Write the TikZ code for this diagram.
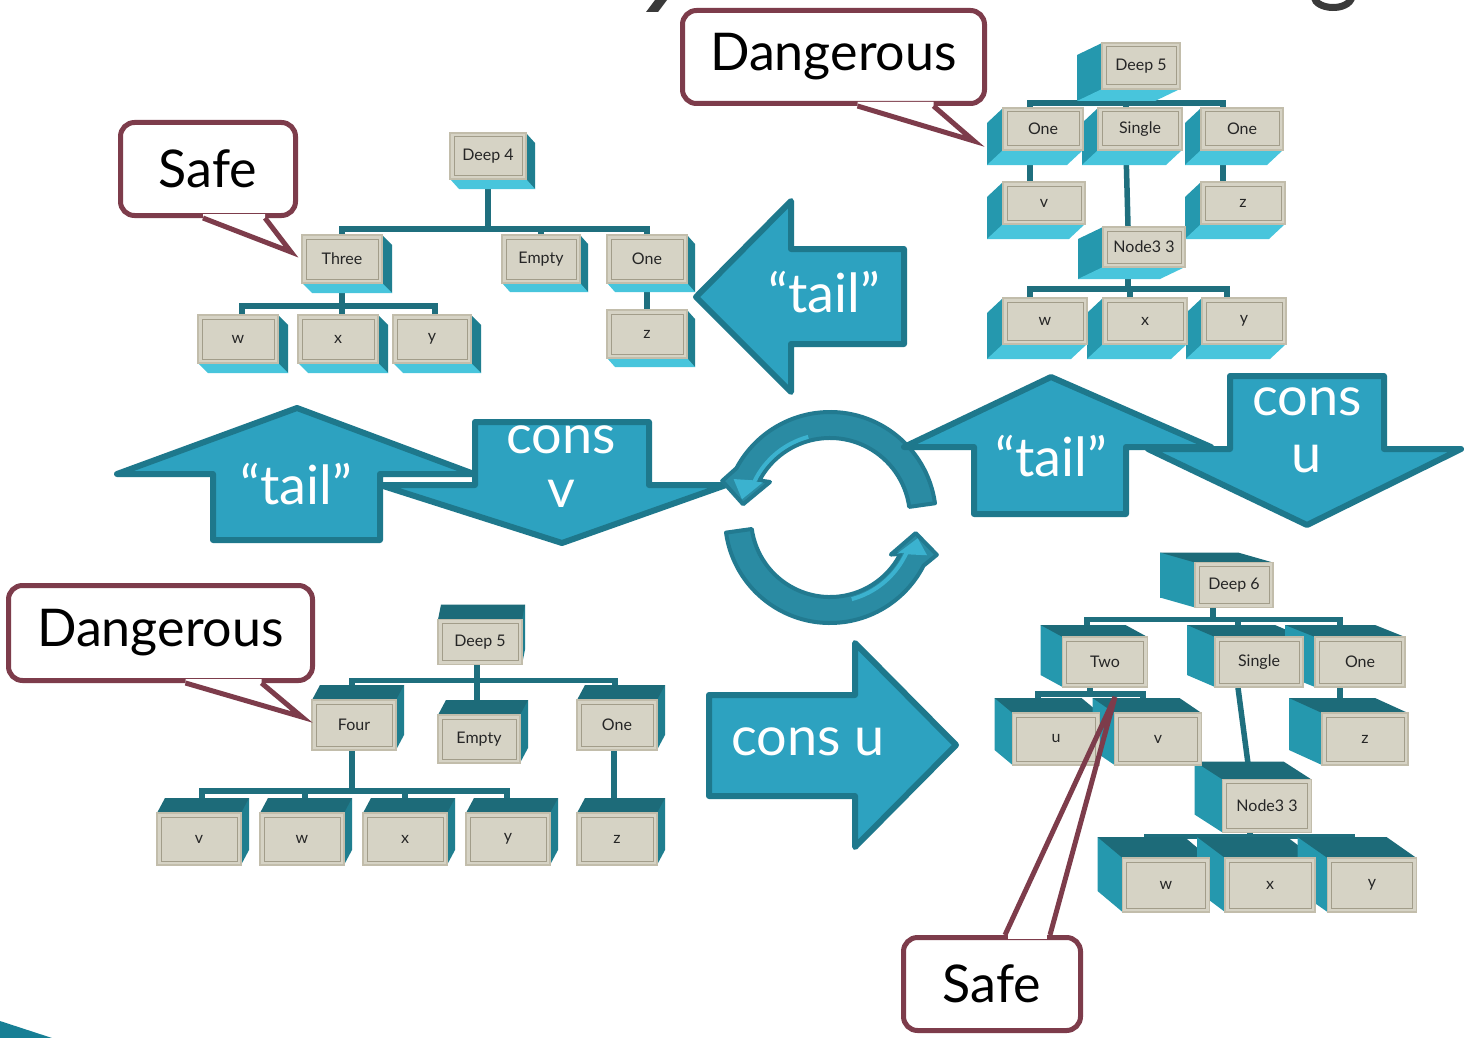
\documentclass[tikz,border=0pt]{standalone}
\usepackage{fontspec}
\setmainfont{Lato}
\usetikzlibrary{calc}
\pgfdeclarelayer{bglayer}
\pgfdeclarelayer{connlayer}
\pgfdeclarelayer{extlayer}
\pgfsetlayers{bglayer,connlayer,extlayer,main}
\definecolor{arrowfill}{HTML}{2DA2C0}
\definecolor{arrowline}{HTML}{1E788C}
\definecolor{callcol}{HTML}{7D3C4B}
\definecolor{conncol}{HTML}{1F6F7E}
\definecolor{facecol}{HTML}{D6D3C5}
\definecolor{rimcol}{HTML}{C2BDAB}
\definecolor{facedark}{HTML}{A29D8A}
\definecolor{circfill}{HTML}{2A8BA3}
\definecolor{circline}{HTML}{227A90}
\definecolor{circlight}{HTML}{3BB2CF}
\definecolor{titlecol}{HTML}{3A3A3A}
\definecolor{cornercol}{HTML}{177F95}
\definecolor{tealdark}{HTML}{1D6B79}
\definecolor{tealmid}{HTML}{2598AE}
\definecolor{tealside}{HTML}{1F7E8F}
\definecolor{cyanlight}{HTML}{48C5DC}

\newcommand{\btn}[8]{%
  \begin{pgfonlayer}{extlayer}
    \fill[extH] ({#2-#4/2+(#6)},{#3-#5/2+(#7)}) rectangle ++(#4,#5);
    \fill[extH] ({#2+sign(#6)*#4/2},{#3-#5/2}) -- ++(0,#5) -- ++(#6,#7) -- ++(0,-#5) -- cycle;
    \fill[extV] ({#2-#4/2},{#3+sign(#7)*#5/2}) -- ++(#4,0) -- ++(#6,#7) -- ++(-#4,0) -- cycle;
  \end{pgfonlayer}
  \node[btnface, minimum width=#4pt, minimum height=#5pt] (#1) at (#2,#3) {#8};
}
\newcommand{\calltail}[4]{%
  \fill[white] ([yshift=#4]#1) -- (#1) -- (#2) -- (#3) -- ([yshift=#4]#3) -- cycle;
  \draw[callcol, line width=5pt, line join=miter] (#1) -- (#2) -- (#3);
}

\begin{document}
\begin{tikzpicture}[x=1pt,y=-1pt,
  btnface/.style={fill=facecol, draw=rimcol, line width=1.6pt, inner sep=0pt,
    font=\fontsize{16}{18}\selectfont, text=black!85,
    path picture={\draw[line width=1pt, draw=facedark]
      ([shift={(4pt,4pt)}]path picture bounding box.south west) rectangle
      ([shift={(-4pt,-4pt)}]path picture bounding box.north east);}},
  conn/.style={draw=conncol, line width=5.5pt},
  callout/.style={draw=callcol, line width=5pt, fill=white, rounded corners=14pt,
    inner sep=0pt, font=\fontsize{52}{60}\selectfont},
  blockarrow/.style={fill=arrowfill, draw=arrowline, line width=6pt, line join=round},
  arrowtext/.style={text=white, font=\fontsize{54}{58}\selectfont, inner sep=0pt},
  circarrow/.style={fill=circfill, draw=circline, line width=4pt, line join=round},
  extH/.style={fill=tealside}, extV/.style={fill=cyanlight}]
\useasboundingbox (0,0) rectangle (1464,1038);
\begin{pgfonlayer}{bglayer}
  \fill[white] (0,0) rectangle (1464,1038);
\end{pgfonlayer}

% title fragments and corner
\fill[titlecol] (655,0) -- (667,0) -- (658,12) -- (646,12) -- cycle;
\draw[titlecol, line width=7pt] (1314,-3) .. controls (1316,10) and (1348,12) .. (1352,-3);
\fill[cornercol] (0,1021) -- (52,1038) -- (0,1038) -- cycle;

% ---------- top-left tree ----------
\tikzset{extH/.style={fill=tealside}, extV/.style={fill=cyanlight}}
\btn{tlD}{488}{156}{76}{46}{9}{10}{Deep 4}
\btn{tlT}{342}{259}{80}{48}{10}{10}{Three}
\btn{tlE}{541}{259}{78}{48}{8}{9}{Empty}
\btn{tlO}{647}{259}{80}{48}{8}{9}{One}
\btn{tlw}{238}{339}{80}{48}{10}{10}{w}
\btn{tlx}{338}{339}{80}{48}{10}{10}{x}
\btn{tly}{432}{339}{78}{48}{10}{10}{y}
\btn{tlz}{647}{334}{80}{48}{8}{9}{z}

% ---------- top-right tree ----------
\tikzset{extH/.style={fill=tealmid}, extV/.style={fill=cyanlight}}
\btn{trD}{1141}{66}{78}{46}{-25}{12}{Deep 5}
\btn{trOa}{1043}{129}{80}{42}{-16}{15}{One}
\btn{trS}{1140}{129}{84}{42}{-16}{15}{Single}
\btn{trOb}{1242}{129}{82}{42}{-16}{15}{One}
\btn{trv}{1044}{203}{82}{42}{-16}{15}{v}
\btn{trz}{1243}{203}{84}{42}{-16}{15}{z}
\btn{trN}{1144}{247}{82}{40}{-25}{12}{Node3 3}
\btn{trw}{1045}{321}{84}{46}{-16}{15}{w}
\btn{trx}{1145}{321}{84}{46}{-16}{15}{x}
\btn{try}{1244}{321}{84}{46}{-16}{15}{y}

% ---------- bottom-left tree ----------
\tikzset{extH/.style={fill=tealside}, extV/.style={fill=tealdark}}
\btn{blD}{480}{642}{84}{45}{3}{-15}{Deep 5}
\btn{blF}{354}{725}{84}{50}{8}{-15}{Four}
\btn{blE}{479}{739}{82}{48}{8}{-15}{Empty}
\btn{blO}{617}{725}{80}{50}{8}{-15}{One}
\btn{blv}{199}{839}{84}{52}{8}{-15}{v}
\btn{blw}{302}{839}{84}{52}{8}{-15}{w}
\btn{blx}{405}{839}{84}{52}{8}{-15}{x}
\btn{bly}{508}{839}{84}{52}{8}{-15}{y}
\btn{blz}{617}{839}{80}{52}{8}{-15}{z}

% ---------- bottom-right tree ----------
\tikzset{extH/.style={fill=tealmid}, extV/.style={fill=tealdark}}
\btn{brD}{1234}{585}{78}{45}{-35}{-10}{Deep 6}
\btn{brT}{1105}{662}{85}{50}{-22}{-12}{Two}
\btn{brS}{1259}{662}{88}{50}{-28}{-12}{Single}
\btn{brO}{1360}{662}{90}{50}{-30}{-12}{One}
\btn{bru}{1056}{739}{87}{52}{-18}{-15}{u}
\btn{brv}{1158}{739}{87}{52}{-22}{-15}{v}
\btn{brz}{1365}{739}{86}{52}{-33}{-15}{z}
\btn{brN}{1267}{806}{89}{53}{-28}{-18}{Node3 3}
\btn{brw}{1166}{885}{87}{54}{-25}{-21}{w}
\btn{brx}{1270}{885}{90}{54}{-28}{-21}{x}
\btn{bry}{1372}{885}{89}{54}{-30}{-21}{y}

% ---------- connectors ----------
\begin{pgfonlayer}{connlayer}
  \draw[conn] (tlD.south) -- ++(0,49) -| (tlT.north);
  \draw[conn] (tlD.south) -- ++(0,49) -| (tlE.north);
  \draw[conn] (tlD.south) -- ++(0,49) -| (tlO.north);
  \draw[conn] (tlT.south) -- ++(0,22) -| ([xshift=4pt]tlw.north);
  \draw[conn] (tlT.south) -- ++(0,22) -| ([xshift=4pt]tlx.north);
  \draw[conn] (tlT.south) -- ++(0,22) -| ([xshift=3pt]tly.north);
  \draw[conn] (tlO.south) -- (tlz.north);

  \draw[conn] ([xshift=-14pt]trD.south) -- ++(0,13) -| ([xshift=-13pt]trOa.north);
  \draw[conn] ([xshift=-14pt]trD.south) -- ++(0,13) -| ([xshift=-14pt]trS.north);
  \draw[conn] ([xshift=-14pt]trD.south) -- ++(0,13) -| ([xshift=-19pt]trOb.north);
  \draw[conn] ([xshift=-13pt]trOa.south) -- ([xshift=-14pt]trv.north);
  \draw[conn] ([xshift=-19pt]trOb.south) -- ([xshift=-20pt]trz.north);
  \draw[conn] ([xshift=-14pt]trS.south) -- ([xshift=-16pt]trN.north);
  \draw[conn] ([xshift=-16pt]trN.south) -- ++(0,21) -| ([xshift=-15pt]trw.north);
  \draw[conn] ([xshift=-16pt]trN.south) -- ++(0,21) -| ([xshift=-15pt]trx.north);
  \draw[conn] ([xshift=-16pt]trN.south) -- ++(0,21) -| ([xshift=-17pt]try.north);

  \draw[conn] ([xshift=-3pt]blD.south) -- ++(0,15) -| ([xshift=-2pt]blF.north);
  \draw[conn] ([xshift=-3pt]blD.south) -- ++(0,15) -| ([xshift=-2pt]blE.north);
  \draw[conn] ([xshift=-3pt]blD.south) -- ++(0,15) -| ([xshift=-2pt]blO.north);
  \draw[conn] ([xshift=-2pt]blF.south) -- ++(0,40) -| ([xshift=3pt]blv.north);
  \draw[conn] ([xshift=-2pt]blF.south) -- ++(0,40) -| ([xshift=3pt]blw.north);
  \draw[conn] ([xshift=-2pt]blF.south) -- ++(0,40) -| ([xshift=0pt]blx.north);
  \draw[conn] ([xshift=-2pt]blF.south) -- ++(0,40) -| ([xshift=-1pt]bly.north);
  \draw[conn] ([xshift=-3pt]blO.south) -- ([xshift=-3pt]blz.north);

  \draw[conn] ([xshift=-21pt]brD.south) -- ++(0,11) -| ([xshift=-18pt]brT.north);
  \draw[conn] ([xshift=-21pt]brD.south) -- ++(0,11) -| ([xshift=-21pt]brS.north);
  \draw[conn] ([xshift=-21pt]brD.south) -- ++(0,11) -| ([xshift=-20pt]brO.north);
  \draw[conn] ([xshift=-15pt]brT.south) -- ++(0,6) -| ([xshift=-18pt]bru.north);
  \draw[conn] ([xshift=-15pt]brT.south) -- ++(0,6) -| ([xshift=-15pt]brv.north);
  \draw[conn] ([xshift=-21pt]brS.south) -- ([xshift=-17pt]brN.north);
  \draw[conn] ([xshift=-17pt]brN.south) -- ++(0,3) -| ([xshift=-19pt]brw.north);
  \draw[conn] ([xshift=-17pt]brN.south) -- ++(0,3) -| ([xshift=-20pt]brx.north);
  \draw[conn] ([xshift=-17pt]brN.south) -- ++(0,3) -| ([xshift=-20pt]bry.north);
  \draw[conn] ([xshift=-20pt]brO.south) -- ([xshift=-25pt]brz.north);
\end{pgfonlayer}

% ---------- block arrows ----------
\draw[blockarrow] (696,297) -- (791,201) -- (791,249) -- (904,249) -- (904,344) -- (791,344) -- (791,392) -- cycle;
\node[arrowtext] (tailA) at (824,292) {“tail”};

\draw[blockarrow] (475,422) -- (649,422) -- (649,485) -- (726,485) -- (562,543) -- (380,485) -- (475,485) -- cycle;
\node[arrowtext] (consV1) at (561,440) {cons};
\node[arrowtext] (consV2) at (561,494) {v};
\draw[blockarrow] (297,408) -- (474,474) -- (380,474) -- (380,540) -- (213,540) -- (213,474) -- (117,474) -- cycle;
\node[arrowtext] (tailB) at (296,484) {“tail”};

% circular arrows
\coordinate (cc) at (830,518);
\draw[circarrow] ($(cc)+(-8:106)$) arc[start angle=-8, end angle=-152, radius=106]
  -- ($(cc)+(-161:114)$) -- ($(cc)+(-171:88)$) -- ($(cc)+(-149:70)$) -- ($(cc)+(-152:80)$)
  arc[start angle=-152, end angle=-8, radius=80] -- cycle;
\fill[circlight] ($(cc)+(-105:86)$) arc[start angle=-105, end angle=-154, radius=86]
  -- ($(cc)+(-158:104)$) -- ($(cc)+(-168:90)$) -- ($(cc)+(-152:76)$) -- ($(cc)+(-154:82)$)
  arc[start angle=-154, end angle=-105, radius=82] -- cycle;
\draw[circarrow] ($(cc)+(172:105)$) arc[start angle=172, end angle=27, radius=105]
  -- ($(cc)+(19:113)$) -- ($(cc)+(10:87)$) -- ($(cc)+(31:71)$) -- ($(cc)+(27:79)$)
  arc[start angle=27, end angle=172, radius=79] -- cycle;
\fill[circlight] ($(cc)+(75:86)$) arc[start angle=75, end angle=25, radius=86]
  -- ($(cc)+(21:104)$) -- ($(cc)+(13:90)$) -- ($(cc)+(28:76)$) -- ($(cc)+(25:82)$)
  arc[start angle=25, end angle=75, radius=82] -- cycle;

\draw[blockarrow] (1230,376) -- (1384,376) -- (1384,449) -- (1461,449) -- (1307,525) -- (1148,449) -- (1230,449) -- cycle;
\node[arrowtext] (consU1) at (1307,402) {cons};
\node[arrowtext] (consU2) at (1307,459) {u};
\draw[blockarrow] (1051,377) -- (1211,447) -- (1126,447) -- (1126,514) -- (974,514) -- (974,447) -- (904,447) -- cycle;
\node[arrowtext] (tailC) at (1051,456) {“tail”};

\draw[blockarrow] (709,695) -- (855,695) -- (855,643) -- (956,745) -- (855,847) -- (855,796) -- (709,796) -- cycle;
\node[arrowtext] (consU3) at (808,742) {cons u};

% ---------- callouts ----------
\node[callout, minimum width=175pt, minimum height=93pt] (c1) at (208,169) {Safe};
\coordinate (c1a) at ([xshift=-5pt]c1.south);
\coordinate (c1b) at ([xshift=57pt]c1.south);
\coordinate (c1t) at (291,252);
\calltail{c1a}{c1t}{c1b}{4pt}

\node[callout, minimum width=302pt, minimum height=93pt] (c2) at (833.5,57) {Dangerous};
\coordinate (c2a) at ([xshift=24pt]c2.south);
\coordinate (c2b) at ([xshift=100pt]c2.south);
\coordinate (c2t) at (974,141);
\calltail{c2a}{c2t}{c2b}{4pt}

\node[callout, minimum width=304pt, minimum height=95pt] (c3) at (160.5,633) {Dangerous};
\coordinate (c3a) at ([xshift=25pt]c3.south);
\coordinate (c3b) at ([xshift=101pt]c3.south);
\coordinate (c3t) at (302,717);
\calltail{c3a}{c3t}{c3b}{4pt}

\node[callout, minimum width=177pt, minimum height=93pt] (c4) at (992,984) {Safe};
\coordinate (c4a) at ([xshift=13pt]c4.north);
\coordinate (c4b) at ([xshift=58pt]c4.north);
\coordinate (c4t) at (1115,697);
\fill[white] ([xshift=3pt,yshift=4pt]c4a) rectangle ([xshift=-3pt,yshift=-4pt]c4b);
\draw[callcol, line width=5pt, line join=bevel] (c4a) -- (c4t) -- (c4b);
\end{tikzpicture}
\end{document}
